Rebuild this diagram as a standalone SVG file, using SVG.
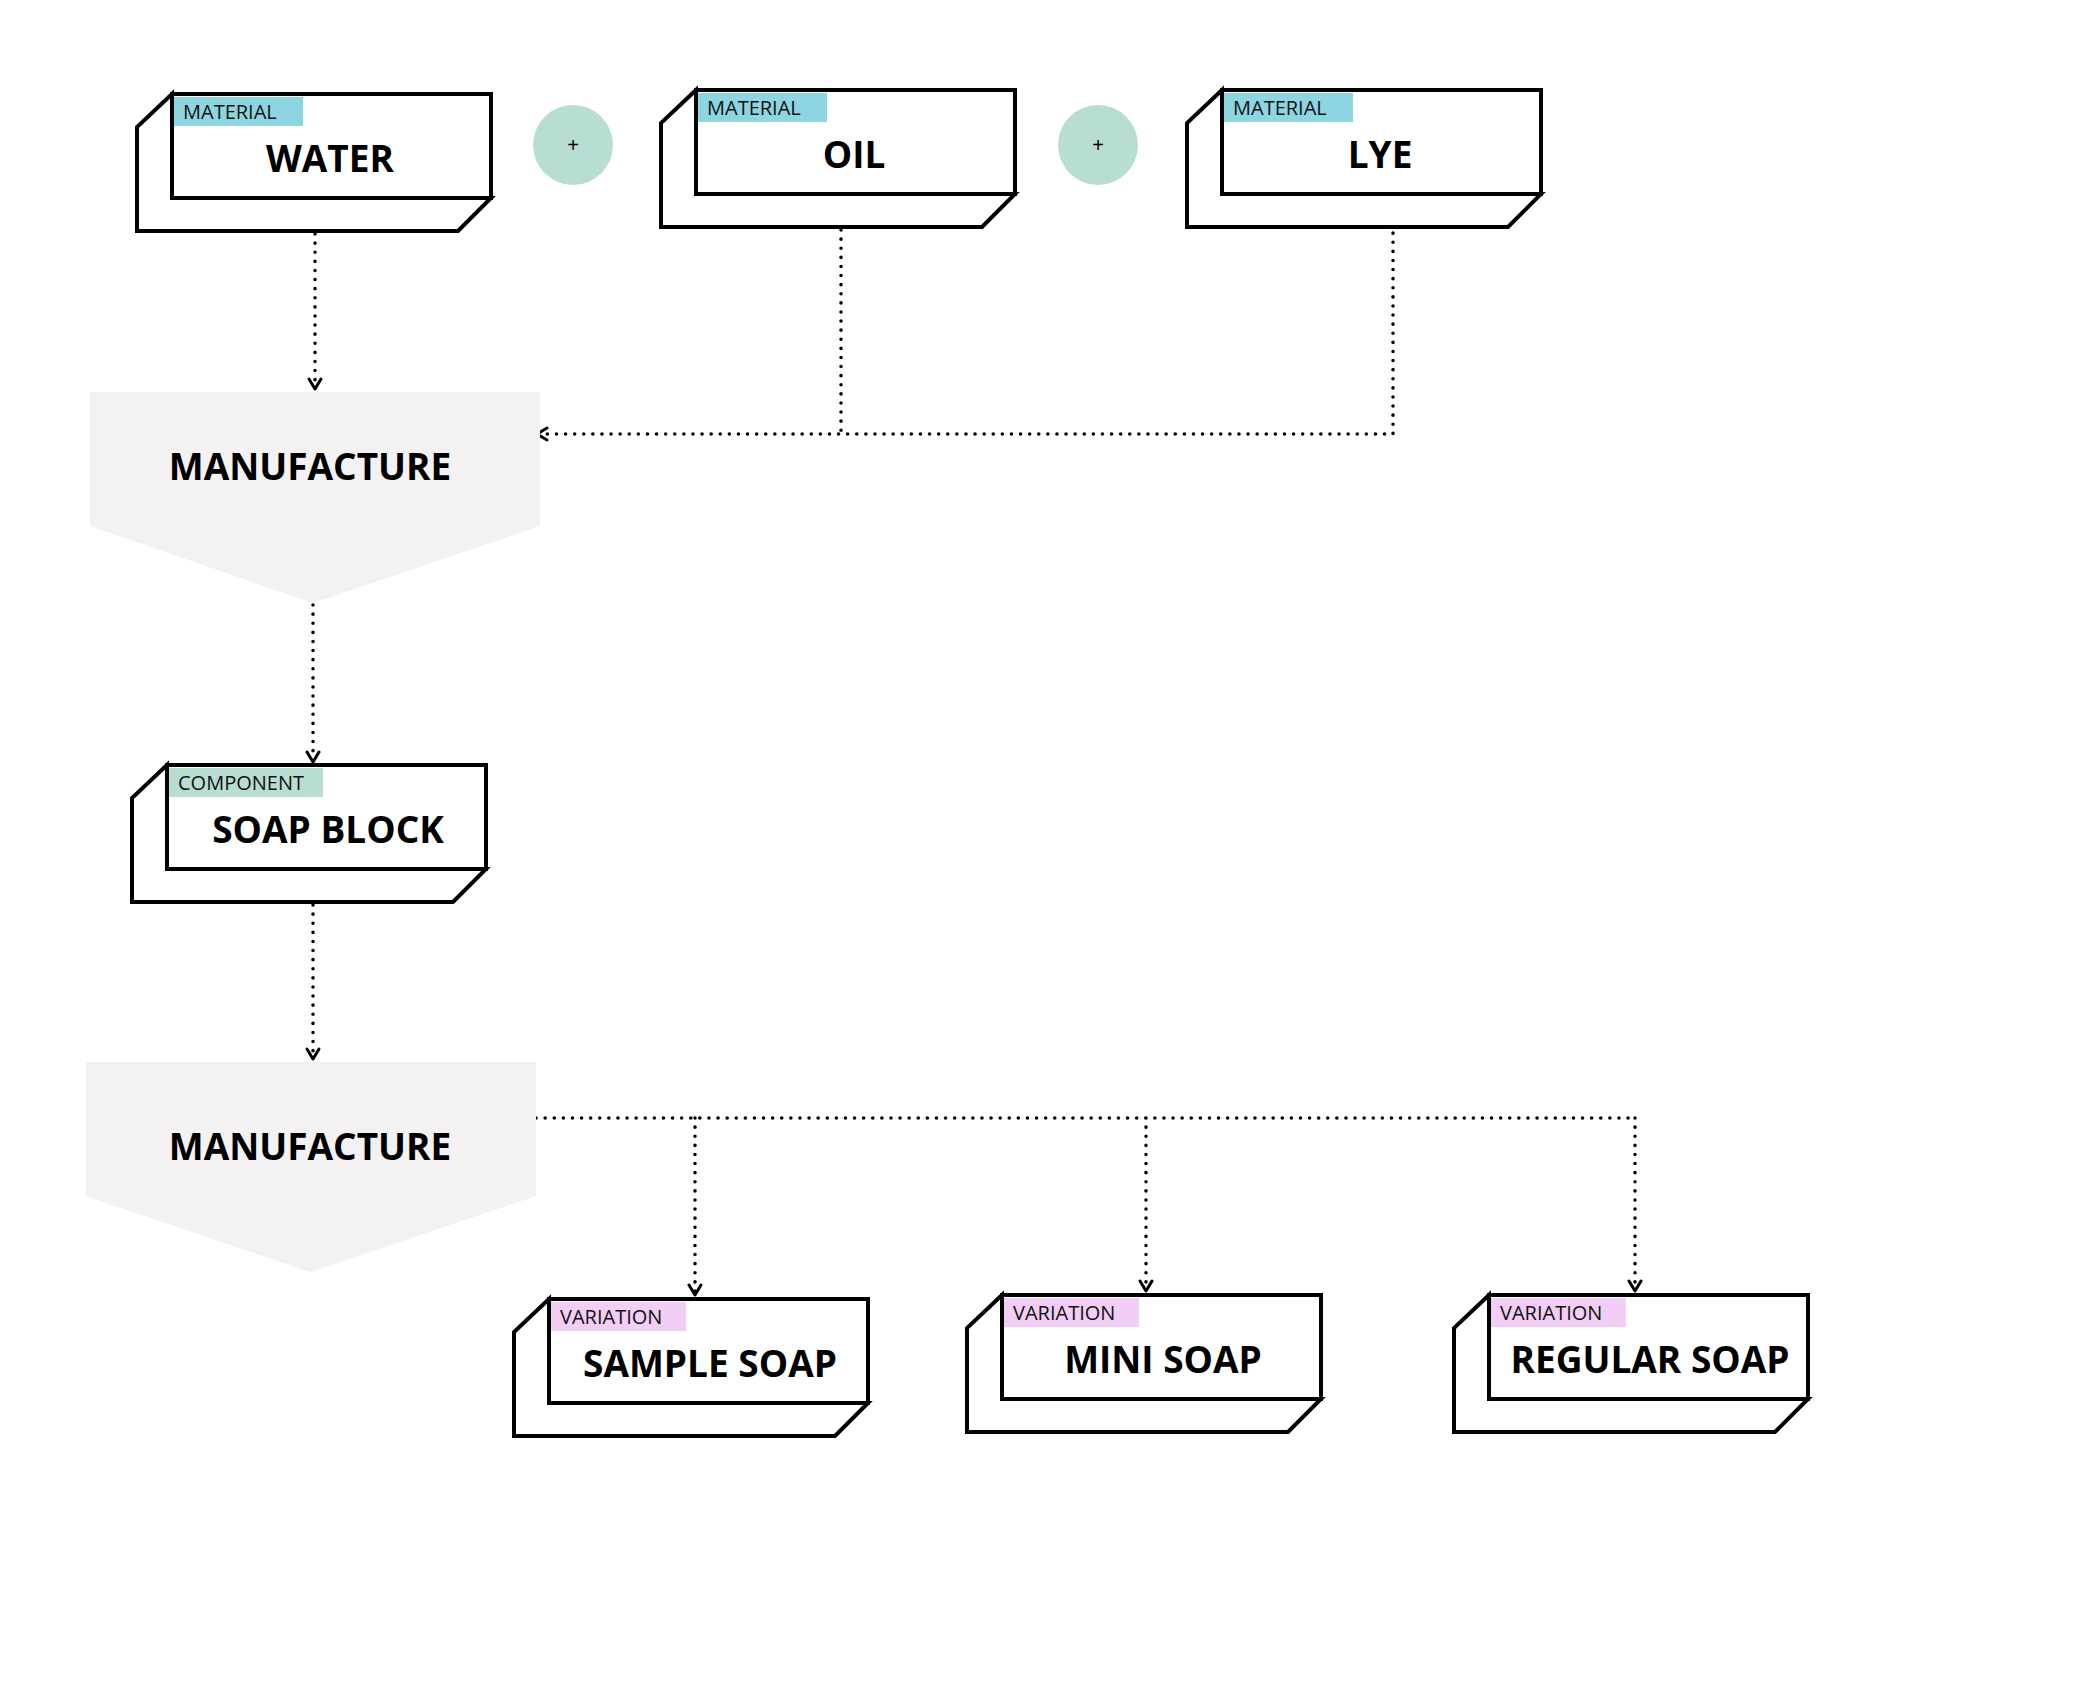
<svg xmlns="http://www.w3.org/2000/svg" width="2100" height="1704" viewBox="0 0 2100 1704">
<style>
.bx{fill:#fff;stroke:#000;stroke-width:4;stroke-linejoin:miter}
.t{font-family:"Open Sans","Liberation Sans",sans-serif;font-weight:700;font-size:37px;text-anchor:middle;fill:#000}
.tag{font-family:"Open Sans","Liberation Sans",sans-serif;font-size:20px;fill:#111}
.mf{fill:#f3f1f2}
.c{fill:none;stroke:#000;stroke-width:3.5;stroke-dasharray:0.1 9;stroke-linecap:round}
.ah{fill:none;stroke:#000;stroke-width:3;stroke-linecap:round;stroke-linejoin:round}
</style>
<defs>
<g id="box">
<path class="bx" d="M35,0 L0,33 L0,137 L321,137 L354,104 L35,104 Z"/>
<rect class="bx" x="35" y="0" width="319" height="104"/>
</g>
</defs>
<rect width="2100" height="1704" fill="#fff"/>
<g id="connectors">
<path class="c" d="M315,234 V387"/>
<path class="ah" d="M309,379 L315,389 L321,379"/>
<path class="c" d="M841,230 V434 M1393,224 V434 H541"/>
<path class="ah" d="M547,428 L537,434 L547,440"/>
<path class="c" d="M313,605 V759"/>
<path class="ah" d="M307,752 L313,762 L319,752"/>
<path class="c" d="M313,905 V1056"/>
<path class="ah" d="M307,1049 L313,1059 L319,1049"/>
<path class="c" d="M536,1118 H1635 M695,1118 V1292 M1146,1118 V1288 M1635,1118 V1288"/>
<path class="ah" d="M689,1285 L695,1295 L701,1285 M1140,1281 L1146,1291 L1152,1281 M1629,1281 L1635,1291 L1641,1281"/>
</g>
<g id="water" transform="translate(137,94)"><use href="#box"/><rect x="37" y="3" width="129" height="29" fill="#8dd5e0"/><text class="tag" x="46" y="25">MATERIAL</text><text class="t" x="193" y="78">WATER</text></g>
<g id="plus1"><circle cx="573" cy="145" r="40" fill="#b8ddd2"/><text x="573" y="152" font-family="Liberation Sans,sans-serif" font-size="20" text-anchor="middle">+</text></g>
<g id="oil" transform="translate(661,90)"><use href="#box"/><rect x="37" y="3" width="129" height="29" fill="#8dd5e0"/><text class="tag" x="46" y="25">MATERIAL</text><text class="t" x="193" y="78">OIL</text></g>
<g id="plus2"><circle cx="1098" cy="145" r="40" fill="#b8ddd2"/><text x="1098" y="152" font-family="Liberation Sans,sans-serif" font-size="20" text-anchor="middle">+</text></g>
<g id="lye" transform="translate(1187,90)"><use href="#box"/><rect x="37" y="3" width="129" height="29" fill="#8dd5e0"/><text class="tag" x="46" y="25">MATERIAL</text><text class="t" x="193" y="78">LYE</text></g>
<g id="manufacture1"><path class="mf" d="M90,392 H540 V526 L313,603 L90,526 Z"/><text class="t" x="310" y="480">MANUFACTURE</text></g>
<g id="soapblock" transform="translate(132,765)"><use href="#box"/><rect x="37" y="3" width="154" height="29" fill="#b8ddd2"/><text class="tag" x="46" y="25">COMPONENT</text><text class="t" x="196" y="78">SOAP BLOCK</text></g>
<g id="manufacture2"><path class="mf" d="M86,1062 H536 V1196 L310,1272 L86,1196 Z"/><text class="t" x="310" y="1160">MANUFACTURE</text></g>
<g id="sample" transform="translate(514,1299)"><use href="#box"/><rect x="37" y="3" width="135" height="29" fill="#f2cdf5"/><text class="tag" x="46" y="25">VARIATION</text><text class="t" x="196" y="78">SAMPLE SOAP</text></g>
<g id="mini" transform="translate(967,1295)"><use href="#box"/><rect x="37" y="3" width="135" height="29" fill="#f2cdf5"/><text class="tag" x="46" y="25">VARIATION</text><text class="t" x="196" y="78">MINI SOAP</text></g>
<g id="regular" transform="translate(1454,1295)"><use href="#box"/><rect x="37" y="3" width="135" height="29" fill="#f2cdf5"/><text class="tag" x="46" y="25">VARIATION</text><text class="t" x="196" y="78">REGULAR SOAP</text></g>
</svg>
